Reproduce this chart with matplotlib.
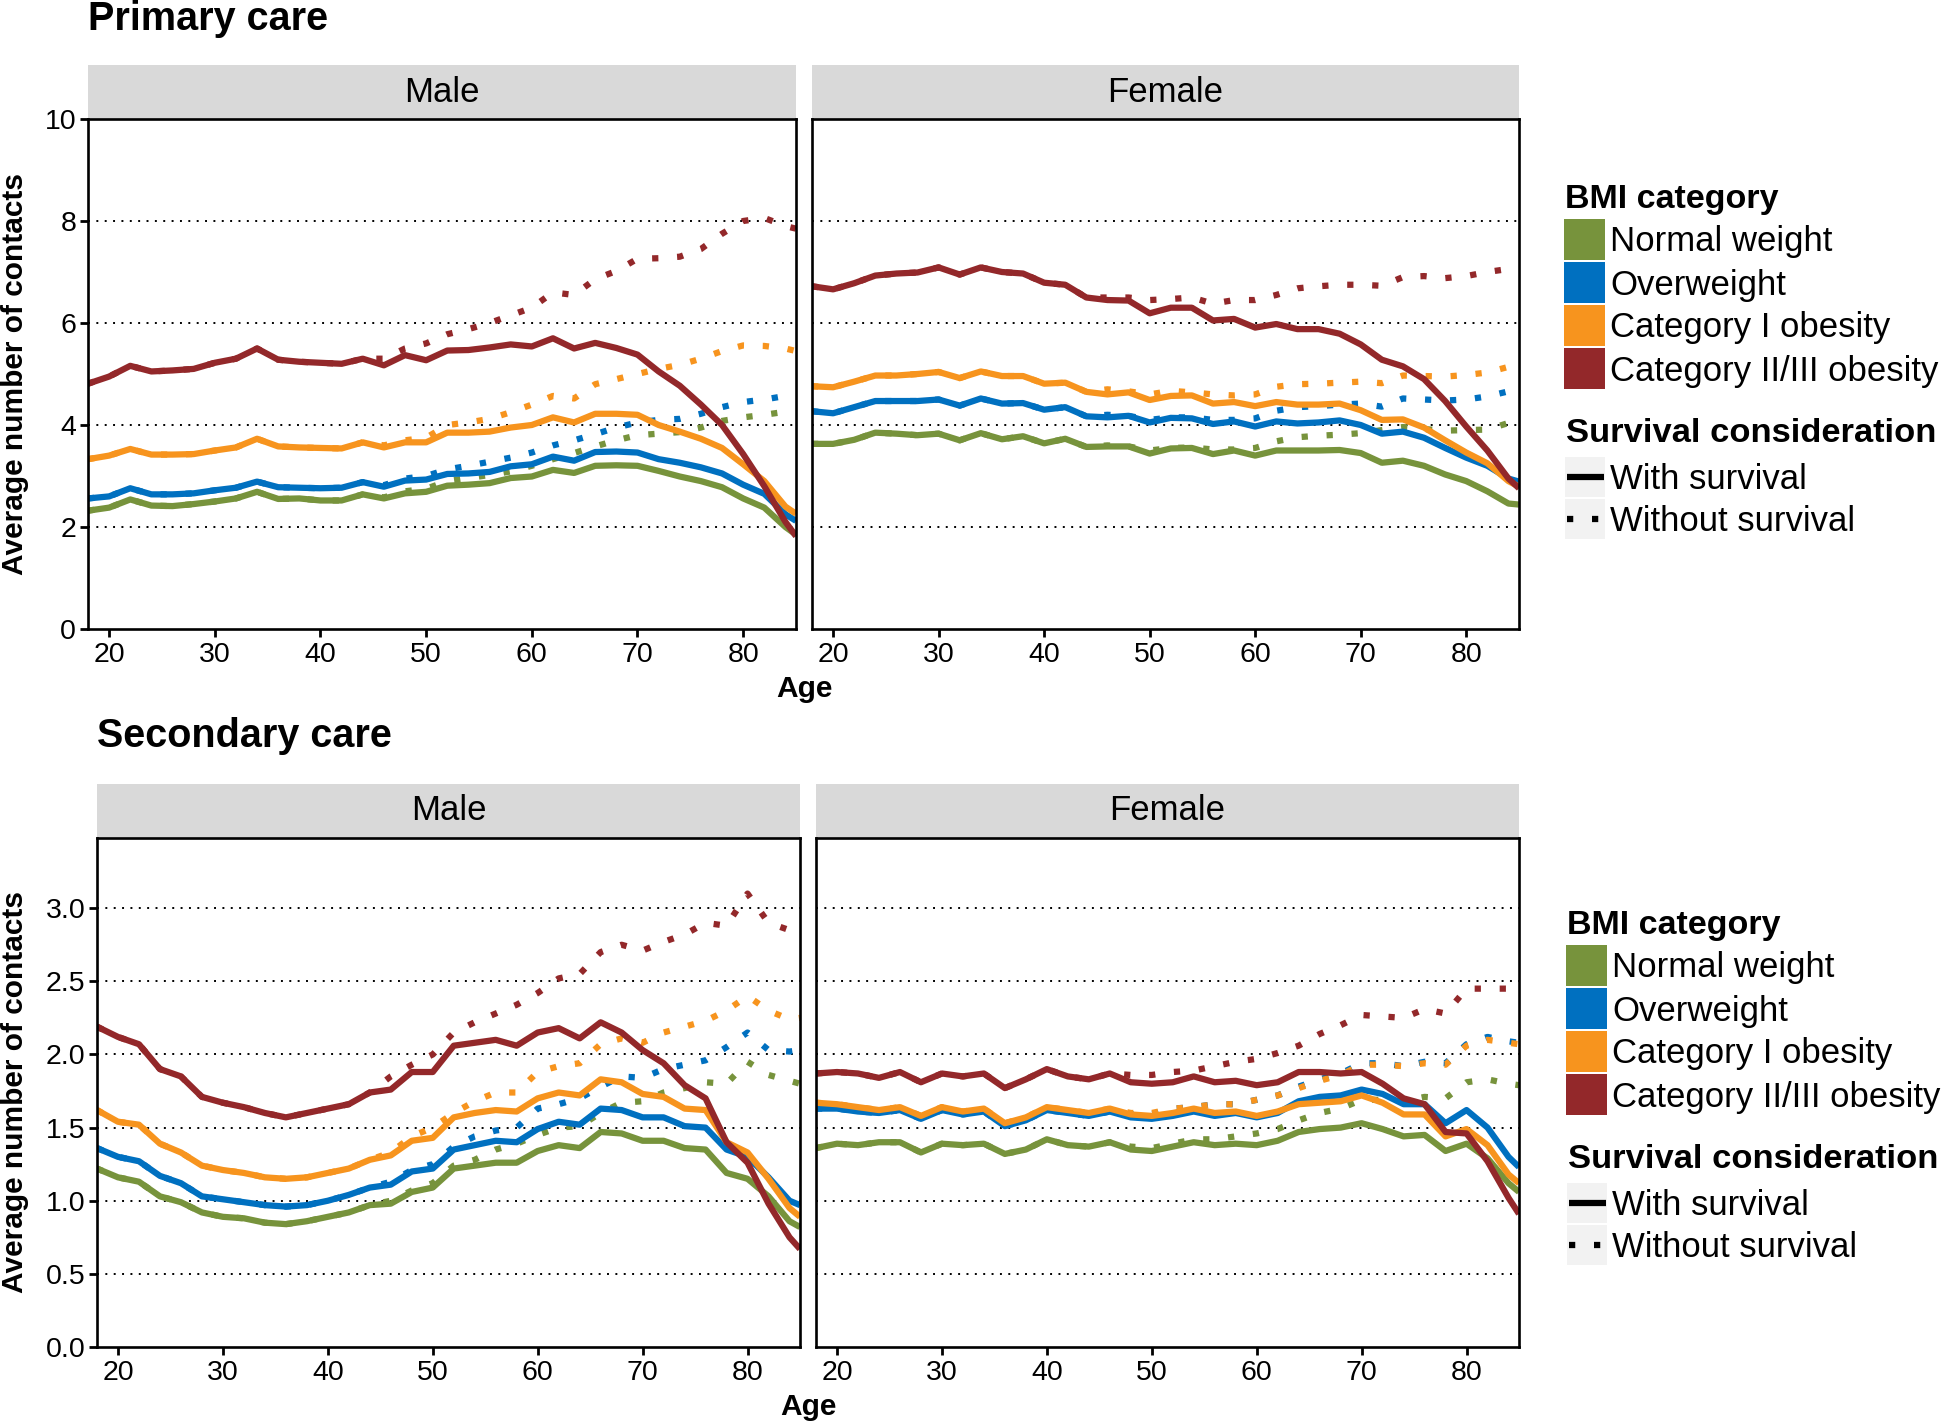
# ============================================
# BMI category and healthcare contacts by age (primary / secondary care)
# ============================================
import matplotlib.pyplot as plt
from matplotlib.patches import Rectangle
from matplotlib.lines import Line2D

plt.rcParams['font.family'] = ['Liberation Sans', 'DejaVu Sans']

# ============================================
# 1. DATA (every 2 years)
# ============================================
ages = [18, 20, 22, 24, 26, 28, 30, 32, 34, 36, 38, 40, 42, 44, 46, 48, 50, 52,
        54, 56, 58, 60, 62, 64, 66, 68, 70, 72, 74, 76, 78, 80, 82, 84, 85]
# "without survival" curves coincide with "with survival" before this age
split_age = 44

bmi_labels = ['Normal weight', 'Overweight', 'Category I obesity', 'Category II/III obesity']
bmi_colors = ['#77933C', '#0070C0', '#F7941E', '#93282A']
survival_labels = ['With survival', 'Without survival']

# Primary care, male
pm_nw = [2.32, 2.38, 2.54, 2.42, 2.41, 2.45, 2.50, 2.56, 2.69, 2.55, 2.56, 2.52, 2.52, 2.64, 2.56, 2.66, 2.69, 2.81,
         2.83, 2.86, 2.96, 2.99, 3.12, 3.06, 3.20, 3.21, 3.20, 3.10, 2.99, 2.90, 2.78, 2.56, 2.38, 2.00, 1.85]
pm_ow = [2.56, 2.60, 2.76, 2.64, 2.64, 2.66, 2.72, 2.77, 2.89, 2.78, 2.77, 2.76, 2.77, 2.88, 2.79, 2.91, 2.93, 3.04,
         3.05, 3.08, 3.19, 3.23, 3.38, 3.30, 3.47, 3.48, 3.46, 3.33, 3.26, 3.17, 3.05, 2.83, 2.65, 2.25, 2.12]
pm_c1 = [3.33, 3.40, 3.53, 3.42, 3.42, 3.43, 3.50, 3.56, 3.73, 3.58, 3.56, 3.55, 3.54, 3.66, 3.56, 3.66, 3.66, 3.85,
         3.85, 3.87, 3.95, 4.00, 4.15, 4.05, 4.22, 4.22, 4.20, 4.00, 3.87, 3.73, 3.55, 3.23, 2.90, 2.40, 2.26]
pm_c2 = [4.81, 4.95, 5.16, 5.05, 5.07, 5.10, 5.22, 5.30, 5.50, 5.28, 5.24, 5.22, 5.20, 5.30, 5.17, 5.37, 5.27, 5.46,
         5.47, 5.52, 5.58, 5.54, 5.70, 5.50, 5.61, 5.51, 5.38, 5.05, 4.77, 4.40, 4.00, 3.43, 2.80, 2.10, 1.82]
pm_nw_wo = [2.64, 2.58, 2.70, 2.75, 2.90, 2.96, 3.02, 3.09, 3.20, 3.33, 3.45, 3.58, 3.70, 3.80, 3.83, 3.86, 3.95,
            4.08, 4.15, 4.20, 4.26, 4.28]
pm_ow_wo = [2.88, 2.82, 2.95, 3.00, 3.13, 3.20, 3.28, 3.36, 3.46, 3.60, 3.70, 3.82, 3.95, 4.05, 4.10, 4.12, 4.22,
            4.35, 4.45, 4.50, 4.57, 4.58]
pm_c1_wo = [3.66, 3.60, 3.70, 3.75, 4.00, 4.05, 4.12, 4.25, 4.40, 4.57, 4.52, 4.80, 4.90, 5.00, 5.10, 5.18, 5.30,
            5.45, 5.56, 5.55, 5.50, 5.45]
pm_c2_wo = [5.30, 5.30, 5.50, 5.60, 5.78, 5.88, 6.00, 6.15, 6.30, 6.60, 6.55, 6.86, 7.02, 7.26, 7.27, 7.30, 7.45,
            7.75, 8.00, 8.06, 7.90, 7.85]

# Primary care, female
pf_nw = [3.63, 3.63, 3.71, 3.85, 3.83, 3.80, 3.83, 3.70, 3.84, 3.72, 3.78, 3.64, 3.73, 3.57, 3.58, 3.58, 3.44, 3.54,
         3.55, 3.43, 3.50, 3.40, 3.50, 3.50, 3.50, 3.51, 3.45, 3.26, 3.30, 3.20, 3.03, 2.90, 2.70, 2.46, 2.44]
pf_ow = [4.27, 4.23, 4.35, 4.47, 4.47, 4.47, 4.50, 4.38, 4.52, 4.42, 4.43, 4.30, 4.35, 4.17, 4.15, 4.18, 4.05, 4.14,
         4.13, 4.02, 4.07, 3.97, 4.07, 4.03, 4.05, 4.09, 4.00, 3.83, 3.87, 3.75, 3.55, 3.36, 3.20, 2.95, 2.89]
pf_c1 = [4.76, 4.74, 4.85, 4.97, 4.97, 5.00, 5.04, 4.92, 5.05, 4.96, 4.96, 4.81, 4.83, 4.65, 4.60, 4.64, 4.49, 4.57,
         4.58, 4.42, 4.45, 4.37, 4.45, 4.40, 4.40, 4.42, 4.29, 4.10, 4.11, 3.95, 3.70, 3.46, 3.25, 2.90, 2.79]
pf_c2 = [6.72, 6.66, 6.78, 6.93, 6.97, 6.99, 7.09, 6.95, 7.09, 7.00, 6.97, 6.79, 6.75, 6.50, 6.45, 6.44, 6.19, 6.30,
         6.30, 6.05, 6.08, 5.91, 5.98, 5.88, 5.88, 5.79, 5.58, 5.28, 5.15, 4.90, 4.47, 3.97, 3.50, 2.95, 2.76]
pf_nw_wo = [3.57, 3.60, 3.58, 3.50, 3.55, 3.56, 3.52, 3.52, 3.55, 3.68, 3.76, 3.79, 3.81, 3.84, 3.90, 3.96, 3.92,
            3.89, 3.90, 3.91, 4.04, 4.08]
pf_ow_wo = [4.17, 4.20, 4.18, 4.10, 4.15, 4.15, 4.10, 4.10, 4.13, 4.28, 4.35, 4.37, 4.40, 4.42, 4.36, 4.52, 4.50,
            4.48, 4.50, 4.56, 4.66, 4.68]
pf_c1_wo = [4.65, 4.70, 4.66, 4.60, 4.67, 4.64, 4.60, 4.58, 4.60, 4.75, 4.80, 4.81, 4.83, 4.85, 4.82, 4.97, 4.96,
            4.95, 4.98, 5.03, 5.14, 5.17]
pf_c2_wo = [6.50, 6.50, 6.50, 6.45, 6.47, 6.50, 6.38, 6.45, 6.45, 6.55, 6.68, 6.72, 6.75, 6.75, 6.73, 6.90, 6.92,
            6.88, 6.92, 7.00, 7.06, 7.08]

# Secondary care, male
sm_nw = [1.22, 1.16, 1.13, 1.03, 0.99, 0.92, 0.89, 0.88, 0.85, 0.84, 0.86, 0.89, 0.92, 0.97, 0.98, 1.06, 1.09, 1.22,
         1.24, 1.26, 1.26, 1.34, 1.38, 1.36, 1.47, 1.46, 1.41, 1.41, 1.36, 1.35, 1.19, 1.15, 1.03, 0.86, 0.82]
sm_ow = [1.36, 1.30, 1.27, 1.17, 1.12, 1.03, 1.01, 0.99, 0.97, 0.96, 0.97, 1.00, 1.04, 1.09, 1.11, 1.20, 1.22, 1.35,
         1.38, 1.41, 1.40, 1.49, 1.54, 1.52, 1.63, 1.62, 1.57, 1.57, 1.51, 1.50, 1.35, 1.30, 1.16, 1.00, 0.97]
sm_c1 = [1.62, 1.54, 1.52, 1.39, 1.33, 1.24, 1.21, 1.19, 1.16, 1.15, 1.16, 1.19, 1.22, 1.28, 1.31, 1.41, 1.43, 1.57,
         1.60, 1.62, 1.61, 1.70, 1.74, 1.72, 1.83, 1.81, 1.73, 1.71, 1.63, 1.62, 1.40, 1.33, 1.15, 0.95, 0.89]
sm_c2 = [2.19, 2.12, 2.07, 1.90, 1.85, 1.71, 1.67, 1.64, 1.60, 1.57, 1.60, 1.63, 1.66, 1.74, 1.76, 1.88, 1.88, 2.06,
         2.08, 2.10, 2.06, 2.15, 2.18, 2.11, 2.22, 2.15, 2.03, 1.94, 1.79, 1.70, 1.40, 1.26, 0.98, 0.75, 0.67]
sm_nw_wo = [0.97, 1.00, 1.07, 1.12, 1.24, 1.28, 1.35, 1.39, 1.45, 1.50, 1.51, 1.60, 1.67, 1.68, 1.74, 1.77, 1.81,
            1.80, 1.95, 1.86, 1.82, 1.80]
sm_ow_wo = [1.09, 1.13, 1.21, 1.25, 1.37, 1.44, 1.48, 1.50, 1.63, 1.66, 1.70, 1.78, 1.85, 1.84, 1.90, 1.93, 1.96,
            2.05, 2.15, 2.03, 2.02, 2.03]
sm_c1_wo = [1.28, 1.33, 1.44, 1.50, 1.60, 1.68, 1.74, 1.74, 1.88, 1.92, 1.94, 2.07, 2.11, 2.08, 2.15, 2.19, 2.23,
            2.30, 2.40, 2.30, 2.24, 2.25]
sm_c2_wo = [1.74, 1.85, 1.93, 2.00, 2.15, 2.22, 2.28, 2.34, 2.42, 2.52, 2.55, 2.70, 2.75, 2.71, 2.77, 2.82, 2.90,
            2.88, 3.10, 2.90, 2.85, 2.85]

# Secondary care, female
sf_nw = [1.36, 1.39, 1.38, 1.40, 1.40, 1.33, 1.39, 1.38, 1.39, 1.32, 1.35, 1.42, 1.38, 1.37, 1.40, 1.35, 1.34, 1.37,
         1.40, 1.38, 1.39, 1.38, 1.41, 1.47, 1.49, 1.50, 1.53, 1.49, 1.44, 1.45, 1.34, 1.39, 1.29, 1.12, 1.06]
sf_ow = [1.63, 1.63, 1.61, 1.60, 1.62, 1.56, 1.62, 1.59, 1.61, 1.51, 1.55, 1.62, 1.60, 1.58, 1.61, 1.57, 1.56, 1.58,
         1.61, 1.58, 1.60, 1.57, 1.60, 1.68, 1.71, 1.72, 1.76, 1.73, 1.66, 1.66, 1.53, 1.62, 1.50, 1.30, 1.23]
sf_c1 = [1.67, 1.66, 1.64, 1.62, 1.64, 1.58, 1.64, 1.61, 1.63, 1.53, 1.57, 1.64, 1.62, 1.60, 1.63, 1.59, 1.58, 1.60,
         1.63, 1.60, 1.61, 1.58, 1.61, 1.66, 1.67, 1.68, 1.72, 1.67, 1.59, 1.59, 1.44, 1.49, 1.38, 1.18, 1.12]
sf_c2 = [1.87, 1.88, 1.87, 1.84, 1.88, 1.81, 1.87, 1.85, 1.87, 1.77, 1.83, 1.90, 1.85, 1.83, 1.87, 1.81, 1.80, 1.81,
         1.85, 1.81, 1.82, 1.79, 1.81, 1.88, 1.88, 1.87, 1.88, 1.80, 1.70, 1.66, 1.47, 1.46, 1.27, 1.02, 0.91]
sf_nw_wo = [1.37, 1.40, 1.37, 1.36, 1.39, 1.42, 1.42, 1.44, 1.46, 1.49, 1.55, 1.60, 1.63, 1.69, 1.69, 1.68, 1.71,
            1.70, 1.81, 1.83, 1.80, 1.79]
sf_ow_wo = [1.58, 1.61, 1.59, 1.59, 1.63, 1.64, 1.66, 1.66, 1.69, 1.72, 1.78, 1.83, 1.87, 1.94, 1.94, 1.92, 1.95,
            1.94, 2.07, 2.12, 2.09, 2.08]
sf_c1_wo = [1.60, 1.63, 1.60, 1.60, 1.63, 1.64, 1.66, 1.66, 1.69, 1.72, 1.77, 1.82, 1.86, 1.93, 1.93, 1.92, 1.94,
            1.93, 2.06, 2.10, 2.08, 2.07]
sf_c2_wo = [1.83, 1.87, 1.86, 1.86, 1.88, 1.89, 1.92, 1.95, 1.97, 2.01, 2.06, 2.14, 2.20, 2.27, 2.26, 2.25, 2.31,
            2.28, 2.45, 2.45, 2.45, 2.44]

x_ticks = [20, 30, 40, 50, 60, 70, 80]
prim_yticks = [0, 2, 4, 6, 8, 10]
sec_yticks = [0.0, 0.5, 1.0, 1.5, 2.0, 2.5, 3.0]

# ============================================
# 2. FIGURE LAYOUT (pixel helpers)
# ============================================
W, H = 1946, 1426
fig = plt.figure(figsize=(W / 100, H / 100), dpi=100)
LW = 4.5
DOT = (0, (1, 3))


def fx(x):
    return x / W


def fy(y):
    return 1 - y / H


def add_ax(x0, y0, x1, y1):
    return fig.add_axes([fx(x0), fy(y1), (x1 - x0) / W, (y1 - y0) / H])


def draw_panel(box, strip_top, title, solids, tails, ylim, yticks, ylabels, show_y):
    x0, y0, x1, y1 = box
    strip = add_ax(x0, strip_top, x1, y0)
    strip.set_facecolor('#D9D9D9')
    strip.set_xticks([])
    strip.set_yticks([])
    for s in strip.spines.values():
        s.set_visible(False)
    strip.text(0.5, 0.5, title, ha='center', va='center', fontsize=25, transform=strip.transAxes)

    ax = add_ax(x0, y0, x1, y1)
    k = ages.index(split_age)
    for color, solid, tail in zip(bmi_colors, solids, tails):
        without = solid[:k] + tail
        ax.plot(ages, without, color=color, lw=LW, linestyle=DOT, dash_capstyle='butt', zorder=3)
        ax.plot(ages, solid, color=color, lw=LW, solid_capstyle='butt', solid_joinstyle='round', zorder=4)

    ax.set_xlim(18, 85)
    ax.set_ylim(*ylim)
    ax.set_xticks(x_ticks)
    ax.set_yticks(yticks)
    ax.set_yticklabels(ylabels)
    # dotted black grid at the major y breaks
    for yv in yticks[1:]:
        if yv < ylim[1] - 1e-9:
            ax.axhline(yv, color='black', lw=1.4, linestyle=(0, (1, 3.3)), zorder=1)
    for s in ax.spines.values():
        s.set_linewidth(1.9)
        s.set_zorder(6)
    ax.tick_params(axis='x', direction='out', length=5.5, width=2, labelsize=20.5, pad=4)
    if show_y:
        ax.tick_params(axis='y', direction='out', length=5.5, width=2, labelsize=20.5, pad=3)
    else:
        ax.tick_params(axis='y', left=False, labelleft=False)
    return ax


def draw_legend(x0, dy):
    fig.text(fx(x0 + 1), fy(208 + dy), 'BMI category', fontsize=24.5, fontweight='bold', va='baseline')
    for i, (lab, col) in enumerate(zip(bmi_labels, bmi_colors)):
        top = 219 + 43 * i + dy
        fig.add_artist(Rectangle((fx(x0), fy(top + 41)), 41 / W, 41 / H, transform=fig.transFigure,
                                 facecolor=col, edgecolor='none'))
        fig.text(fx(x0 + 46), fy(top + 20.5 + 12), lab, fontsize=25, va='baseline')
    fig.text(fx(x0 + 2), fy(442 + dy), 'Survival consideration', fontsize=24.8, fontweight='bold', va='baseline')
    for i, (lab, ls) in enumerate(zip(survival_labels, ['-', DOT])):
        top = 457 + 42 * i + dy
        fig.add_artist(Rectangle((fx(x0 + 1), fy(top + 40)), 40 / W, 40 / H, transform=fig.transFigure,
                                 facecolor='#F2F2F2', edgecolor='none'))
        yc = fy(top + 20)
        fig.add_artist(Line2D([fx(x0 + 3), fx(x0 + 40)], [yc, yc], transform=fig.transFigure, color='black',
                              lw=LW, linestyle=ls, solid_capstyle='butt', dash_capstyle='butt'))
        fig.text(fx(x0 + 46), fy(top + 20 + 12), lab, fontsize=25, va='baseline')


# ============================================
# 3. PRIMARY CARE
# ============================================
prim_labels = [str(v) for v in prim_yticks]
draw_panel((88, 119, 796, 629), 65, 'Male', [pm_nw, pm_ow, pm_c1, pm_c2],
           [pm_nw_wo, pm_ow_wo, pm_c1_wo, pm_c2_wo], (0, 10), prim_yticks, prim_labels, True)
draw_panel((812, 119, 1519, 629), 65, 'Female', [pf_nw, pf_ow, pf_c1, pf_c2],
           [pf_nw_wo, pf_ow_wo, pf_c1_wo, pf_c2_wo], (0, 10), prim_yticks, prim_labels, False)
fig.text(fx(88), fy(30), 'Primary care', fontsize=28.5, fontweight='bold', va='baseline')
fig.text(fx(15), fy(374), 'Average number of contacts', rotation=90, ha='center', va='center',
         fontsize=21.5, fontweight='bold')
fig.text(fx(804), fy(689), 'Age', ha='center', va='center', fontsize=21.5, fontweight='bold')
draw_legend(1564, 0)

# ============================================
# 4. SECONDARY CARE
# ============================================
sec_labels = [f'{v:.1f}' for v in sec_yticks]
draw_panel((97, 838, 800, 1347), 784, 'Male', [sm_nw, sm_ow, sm_c1, sm_c2],
           [sm_nw_wo, sm_ow_wo, sm_c1_wo, sm_c2_wo], (0, 3.48), sec_yticks, sec_labels, True)
draw_panel((816, 838, 1519, 1347), 784, 'Female', [sf_nw, sf_ow, sf_c1, sf_c2],
           [sf_nw_wo, sf_ow_wo, sf_c1_wo, sf_c2_wo], (0, 3.48), sec_yticks, sec_labels, False)
fig.text(fx(97), fy(747), 'Secondary care', fontsize=28.5, fontweight='bold', va='baseline')
fig.text(fx(15), fy(1092), 'Average number of contacts', rotation=90, ha='center', va='center',
         fontsize=21.5, fontweight='bold')
fig.text(fx(808), fy(1407), 'Age', ha='center', va='center', fontsize=21.5, fontweight='bold')
draw_legend(1566, 726)

fig.savefig('out.png', dpi=100, facecolor='white')
print('saved out.png')
